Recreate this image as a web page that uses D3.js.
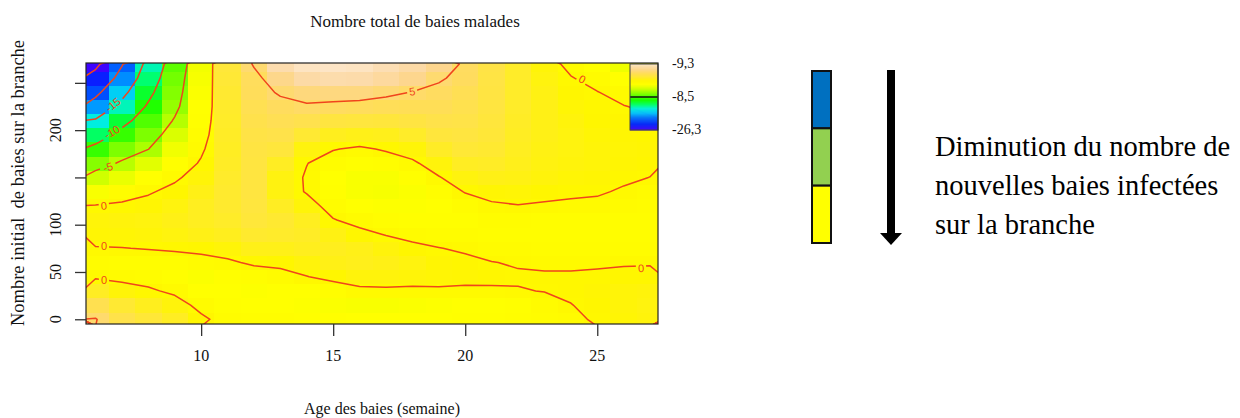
<!DOCTYPE html>
<html>
<head>
<meta charset="utf-8">
<script src="https://cdn.jsdelivr.net/npm/d3@7"></script>
<style>
  body { margin: 0; background: #ffffff; }
  svg { display: block; }
</style>
</head>
<body>
<svg id="chart" width="1240" height="418"></svg>
<script>
// ---- data -------------------------------------------------------------
// Berry age (weeks) at the centre of each grid column
const ages = [6, 7, 8, 9, 10, 11, 12, 13, 14, 15, 16, 17, 18, 19, 20, 21, 22, 23, 24, 25, 26, 27];
// Initial number of berries on the branch at the centre of each grid row
const counts = [0, 15, 30, 45, 60, 75, 90, 105, 120, 135, 150, 165, 180, 195, 210, 225, 240, 255, 270];
// Change in the total number of diseased berries, one row per initial count
const zRows = [
  [5.1, 3.5, 2.6, 1.8, 0.4, -0.8, -1.0, -1.1, -1.2, -1.3, -1.4, -1.5, -1.5, -1.4, -1.3, -1.2, -1.1, -0.9, -0.5, 0.3, 0.7, 0.9],
  [3.8, 2.4, 1.6, 0.9, -0.6, -1.2, -1.4, -1.5, -1.6, -1.7, -1.8, -1.8, -1.7, -1.6, -1.5, -1.4, -1.2, -0.6, -0.05, 0.5, 0.8, 1.0],
  [1.8, 0.8, 0.3, -0.4, -1.4, -1.5, -1.6, -1.5, -1.4, -1.0, -0.4, -0.3, -0.4, -0.3, -0.4, -0.3, -0.1, 0.05, 0.3, 0.6, 0.8, 0.9],
  [-0.3, -0.5, -0.8, -1.2, -1.7, -1.3, -1.0, -0.7, -0.05, 0.5, 0.9, 0.9, 0.8, 0.7, 0.6, 0.5, 0.2, 0.2, 0.2, 0.35, 0.5, 0.5],
  [-0.9, -1.0, -1.1, -1.0, -0.7, -0.3, 0.3, 0.5, 0.9, 1.3, 1.5, 1.3, 1.0, 0.6, 0.4, 0.05, -0.15, -0.3, -0.3, -0.3, -0.2, -0.15],
  [-0.1, -0.05, 0.1, 0.3, 0.5, 0.8, 1.4, 1.4, 1.6, 1.6, 1.4, 0.9, 0.4, 0.05, -0.25, -0.6, -0.7, -0.8, -0.8, -0.8, -0.8, -0.8],
  [0.65, 0.7, 0.8, 1.0, 1.3, 1.6, 2.2, 2.1, 1.9, 1.2, 0.5, -0.1, -0.5, -0.8, -0.9, -1.0, -1.0, -1.1, -1.1, -1.1, -1.1, -1.1],
  [0.8, 0.9, 1.0, 1.3, 1.7, 2.0, 2.7, 2.3, 1.7, 0.1, -0.6, -1.0, -1.2, -1.3, -1.2, -0.9, -0.8, -1.0, -1.0, -1.0, -1.1, -1.1],
  [0.1, 0.3, 0.6, 1.0, 1.7, 2.2, 2.9, 1.8, 0.8, -0.8, -1.4, -1.6, -1.6, -1.4, -0.9, -0.25, -0.05, -0.2, -0.3, -0.4, -0.7, -0.9],
  [-1.8, -0.8, -0.2, 0.5, 1.3, 2.2, 3.0, 1.1, -0.15, -1.3, -1.8, -1.9, -1.7, -1.0, 0.1, 0.6, 0.7, 0.5, 0.3, 0.2, -0.2, -0.5],
  [-3.8, -2.6, -1.5, -0.3, 0.8, 2.1, 3.0, 1.1, -0.2, -1.4, -1.8, -1.8, -1.2, -0.1, 1.0, 1.3, 1.2, 0.9, 0.7, 0.6, 0.3, -0.02],
  [-6.3, -4.6, -3.0, -1.2, 0.2, 1.9, 3.0, 1.8, 0.05, -0.9, -1.2, -1.0, -0.3, 0.9, 1.8, 1.9, 1.5, 1.1, 0.9, 0.8, 0.6, 0.4],
  [-8.8, -6.6, -5.05, -2.2, -0.3, 1.8, 3.1, 2.8, 1.0, 0.1, -0.3, 0.2, 0.8, 1.9, 2.5, 2.3, 1.7, 1.2, 1.0, 0.8, 0.7, 0.6],
  [-12.2, -8.8, -6.6, -3.4, -0.8, 1.9, 3.3, 3.5, 2.4, 1.6, 1.4, 1.5, 2.0, 2.8, 3.0, 2.6, 1.8, 1.3, 1.0, 0.7, 0.6, 0.5],
  [-14.6, -11.2, -8.0, -4.7, -1.2, 2.0, 3.6, 4.0, 3.7, 3.0, 2.9, 2.8, 3.1, 3.5, 3.4, 2.8, 1.9, 1.3, 0.9, 0.5, 0.4, 0.15],
  [-18.2, -13.8, -9.5, -5.8, -1.5, 2.1, 3.9, 4.5, 4.8, 4.6, 4.4, 4.2, 4.1, 4.1, 3.7, 3.0, 2.0, 1.3, 0.7, 0.3, 0.05, -0.25],
  [-21.0, -16.2, -11.0, -6.4, -1.7, 2.3, 4.3, 5.2, 5.7, 5.8, 5.8, 5.4, 4.95, 4.6, 4.0, 3.1, 2.0, 1.2, 0.5, 0.05, -0.5, -1.0],
  [-23.5, -18.6, -12.5, -6.9, -1.9, 2.5, 4.4, 6.3, 7.6, 7.9, 7.8, 7.2, 6.4, 5.2, 4.5, 3.2, 2.0, 1.0, 0.1, -0.6, -1.4, -1.9],
  [-26.0, -20.3, -13.7, -7.6, -2.1, 2.7, 5.2, 8.0, 9.0, 9.2, 9.0, 8.3, 7.6, 6.4, 4.6, 3.3, 2.0, 0.8, -0.5, -1.5, -2.3, -2.8]
];
const contourLevels = [-25, -20, -15, -10, -5, 0, 5];
// Where each contour carries its value label
const contourLabels = [
  { text: "-15", age: 6.66, count: 227, angle: -38 },
  { text: "-10", age: 6.62, count: 198, angle: -30 },
  { text: "-5",  age: 6.47, count: 161, angle: -18 },
  { text: "0",   age: 6.32, count: 120, angle: -6 },
  { text: "0",   age: 6.32, count: 77,  angle: 0 },
  { text: "0",   age: 6.32, count: 42,  angle: 0 },
  { text: "5",   age: 17.99, count: 241, angle: -8 },
  { text: "0",   age: 24.43, count: 254, angle: 28 },
  { text: "0",   age: 26.66, count: 54,  angle: -3 }
];
const xTicks = [10, 15, 20, 25];
const yTicks = [0, 50, 100, 150, 200, 250];
const yTickLabels = ["0", "50", "100", "", "200", ""];
const zRange = [-26.3, 9.3];
const zMid = -8.5;
const legendLabels = ["-9,3", "-8,5", "-26,3"];
const legendLabelValues = [9.3, -8.5, -26.3];
const trendColors = ["#0070c0", "#92d050", "#ffff00"];
const trendText = ["Diminution du nombre de", "nouvelles baies infectées", "sur la branche"];

// colour ramp: purple-blue for strong decreases, through green and yellow, to cream
const colorStops = [-26.3, -23, -19.5, -17, -14.5, -12.5, -10, -6.5, -3.5, -1.5, 0.5, 2.5, 4.5, 6.5, 8, 9.3];
const colorRamp = ["#4400ff", "#0024ff", "#0070ff", "#00c0ff", "#00f0e0", "#00ff70", "#10ff00",
                   "#80ff00", "#d8ff00", "#ffff00", "#fff600", "#ffe836", "#ffdc5e", "#fdd690", "#fcdcae", "#fde6c8"];

// ---- layout -----------------------------------------------------------
const svg = d3.select("#chart");
const plot = { left: 86, right: 658, top: 63, bottom: 324 };
const serif = "'Liberation Serif', 'Times New Roman', serif";
const lineColor = "#f0441c";

const x = d3.scaleLinear().domain([5.64, 27.3]).range([plot.left, plot.right]);
const y = d3.scaleLinear().domain([-5, 271]).range([plot.bottom, plot.top]);
const color = d3.scaleLinear().domain(colorStops).range(colorRamp).clamp(true);

const defs = svg.append("defs");
defs.append("clipPath").attr("id", "plotClip")
  .append("rect")
  .attr("x", plot.left).attr("y", plot.top)
  .attr("width", plot.right - plot.left).attr("height", plot.bottom - plot.top);

// ---- heat map cells ---------------------------------------------------
const da = ages[1] - ages[0];
const dc = counts[1] - counts[0];
const cells = zRows.flatMap((row, i) => row.map((v, j) => ({ a: ages[j], c: counts[i], v })));

const field = svg.append("g").attr("clip-path", "url(#plotClip)");
field.selectAll("rect.cell")
  .data(cells)
  .join("rect")
  .attr("class", "cell")
  .attr("x", d => x(d.a - da / 2))
  .attr("y", d => y(d.c + dc / 2))
  .attr("width", d => x(d.a + da / 2) - x(d.a - da / 2) + 0.5)
  .attr("height", d => y(d.c - dc / 2) - y(d.c + dc / 2) + 0.5)
  .attr("fill", d => color(d.v))
  .attr("shape-rendering", "crispEdges");

// ---- contour lines ----------------------------------------------------
const values = zRows.flat();
const contours = d3.contours()
  .size([ages.length, counts.length])
  .thresholds(contourLevels)(values);

const gridToPixels = d3.geoTransform({
  point(gx, gy) {
    this.stream.point(x(ages[0] + (gx - 0.5) * da), y(counts[0] + (gy - 0.5) * dc));
  }
});
const contourPath = d3.geoPath(gridToPixels);

// gaps in the lines where the labels sit
const mask = defs.append("mask").attr("id", "labelGaps")
  .attr("maskUnits", "userSpaceOnUse")
  .attr("x", 0).attr("y", 0).attr("width", 1240).attr("height", 418);
mask.append("rect").attr("x", 0).attr("y", 0).attr("width", 1240).attr("height", 418).attr("fill", "#fff");
mask.selectAll("rect.gap")
  .data(contourLabels)
  .join("rect")
  .attr("class", "gap")
  .attr("x", d => -(d.text.length * 6.2 + 4) / 2)
  .attr("y", -6)
  .attr("width", d => d.text.length * 6.2 + 4)
  .attr("height", 12)
  .attr("transform", d => `translate(${x(d.age)},${y(d.count)}) rotate(${d.angle})`)
  .attr("fill", "#000");

const lines = field.append("g").attr("mask", "url(#labelGaps)");
lines.selectAll("path")
  .data(contours)
  .join("path")
  .attr("d", contourPath)
  .attr("fill", "none")
  .attr("stroke", lineColor)
  .attr("stroke-width", 1.5)
  .attr("stroke-linejoin", "round");

field.selectAll("text.clabel")
  .data(contourLabels)
  .join("text")
  .attr("class", "clabel")
  .attr("transform", d => `translate(${x(d.age)},${y(d.count)}) rotate(${d.angle})`)
  .attr("text-anchor", "middle")
  .attr("dominant-baseline", "central")
  .attr("font-family", "'Liberation Sans', Arial, sans-serif")
  .attr("font-size", 11)
  .attr("fill", lineColor)
  .text(d => d.text);

// ---- in-plot colour key -----------------------------------------------
const key = { left: 630, right: 658, top: 64, bottom: 130 };
const keyY = d3.scaleLinear().domain(zRange).range([key.bottom, key.top]);
const keyStep = (zRange[1] - zRange[0]) / 132;
const keySteps = d3.range(132).map(i => zRange[0] + i * keyStep);
svg.append("g").selectAll("rect")
  .data(keySteps)
  .join("rect")
  .attr("x", key.left)
  .attr("width", key.right - key.left)
  .attr("y", d => keyY(d + keyStep))
  .attr("height", d => keyY(d) - keyY(d + keyStep) + 0.4)
  .attr("fill", d => color(d + keyStep / 2));
svg.append("line")
  .attr("x1", key.left).attr("x2", key.right)
  .attr("y1", keyY(zMid)).attr("y2", keyY(zMid))
  .attr("stroke", "#111").attr("stroke-width", 1.5);
svg.append("rect")
  .attr("x", key.left).attr("y", key.top)
  .attr("width", key.right - key.left).attr("height", key.bottom - key.top)
  .attr("fill", "none").attr("stroke", "#444").attr("stroke-width", 1);
svg.append("g").selectAll("text")
  .data(legendLabels)
  .join("text")
  .attr("x", key.right + 14)
  .attr("y", (d, i) => keyY(legendLabelValues[i]) + 4)
  .attr("font-family", serif)
  .attr("font-size", 14)
  .attr("fill", "#111")
  .text(d => d);

// ---- frame and axes ---------------------------------------------------
svg.append("rect")
  .attr("x", plot.left).attr("y", plot.top)
  .attr("width", plot.right - plot.left).attr("height", plot.bottom - plot.top)
  .attr("fill", "none").attr("stroke", "#222").attr("stroke-width", 1.2);

const xAxis = svg.append("g")
  .attr("transform", `translate(0,${plot.bottom})`)
  .call(d3.axisBottom(x).tickValues(xTicks).tickSize(12).tickSizeOuter(0).tickFormat(""));
const yAxis = svg.append("g")
  .attr("transform", `translate(${plot.left},0)`)
  .call(d3.axisLeft(y).tickValues(yTicks).tickSize(11).tickSizeOuter(0).tickFormat(""));
[xAxis, yAxis].forEach(ax => {
  ax.select(".domain").remove();
  ax.selectAll(".tick line").attr("stroke", "#333").attr("stroke-width", 1.3);
});

svg.append("g").selectAll("text")
  .data(xTicks)
  .join("text")
  .attr("x", d => x(d))
  .attr("y", 361)
  .attr("text-anchor", "middle")
  .attr("font-family", serif)
  .attr("font-size", 16)
  .attr("fill", "#111")
  .text(d => d);

svg.append("g").selectAll("text")
  .data(yTicks)
  .join("text")
  .attr("transform", d => `translate(61,${y(d)}) rotate(-90)`)
  .attr("text-anchor", "middle")
  .attr("font-family", serif)
  .attr("font-size", 16)
  .attr("fill", "#111")
  .text((d, i) => yTickLabels[i]);

svg.append("text")
  .attr("x", 415).attr("y", 27)
  .attr("text-anchor", "middle")
  .attr("font-family", serif)
  .attr("font-size", 17)
  .attr("fill", "#111")
  .text("Nombre total de baies malades");

svg.append("text")
  .attr("x", 382).attr("y", 414)
  .attr("text-anchor", "middle")
  .attr("font-family", serif)
  .attr("font-size", 16)
  .attr("fill", "#111")
  .text("Age des baies (semaine)");

svg.append("text")
  .attr("transform", "translate(24,183) rotate(-90)")
  .attr("text-anchor", "middle")
  .attr("font-family", serif)
  .attr("font-size", 18.5)
  .attr("fill", "#111")
  .attr("xml:space", "preserve")
  .style("white-space", "pre")
  .text("Nombre initial  de baies sur la branche");

// ---- trend panel ------------------------------------------------------
const band = d3.scaleBand().domain(d3.range(trendColors.length)).range([71, 243]);
svg.append("g").selectAll("rect")
  .data(trendColors)
  .join("rect")
  .attr("x", 812)
  .attr("y", (d, i) => band(i))
  .attr("width", 19)
  .attr("height", band.bandwidth())
  .attr("fill", d => d)
  .attr("stroke", "#111")
  .attr("stroke-width", 2);

const arrow = svg.append("g").attr("fill", "#000");
arrow.append("rect").attr("x", 887).attr("y", 70).attr("width", 8).attr("height", 164);
arrow.append("path").attr("d", d3.line()([[880, 233], [902, 233], [891, 245]]) + "Z");

svg.append("g").selectAll("text")
  .data(trendText)
  .join("text")
  .attr("x", 935)
  .attr("y", (d, i) => 156 + i * 39)
  .attr("font-family", serif)
  .attr("font-size", 28.5)
  .attr("fill", "#000")
  .text(d => d);
</script>
</body>
</html>
